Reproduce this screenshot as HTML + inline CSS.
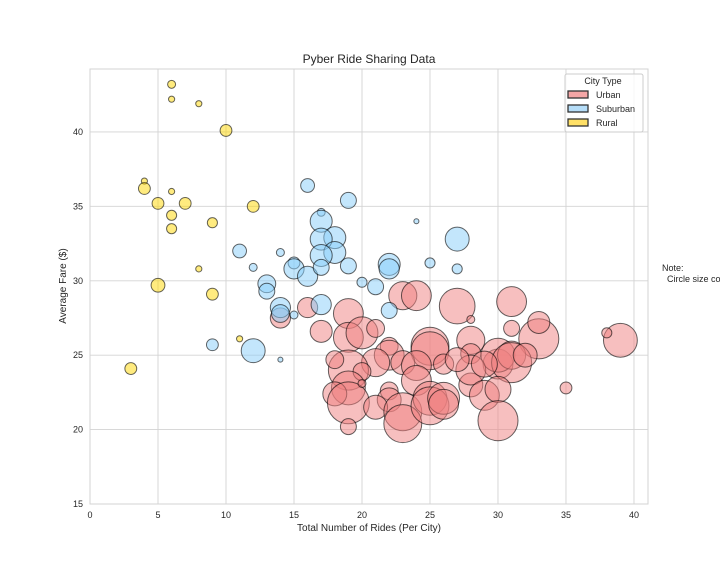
<!DOCTYPE html>
<html><head><meta charset="utf-8"><style>
body{margin:0;background:#fff;}
svg text{font-family:"Liberation Sans",sans-serif;fill:#262626;}
</style></head><body>
<svg id="chart" width="720" height="576" xmlns="http://www.w3.org/2000/svg">
<g id="grid"></g>
<g id="marks"></g>
<g id="axes"></g>
<text x="369" y="63" font-size="12" text-anchor="middle">Pyber Ride Sharing Data</text>
<text x="369" y="531" font-size="10" text-anchor="middle">Total Number of Rides (Per City)</text>
<text x="66" y="286" font-size="10" text-anchor="middle" transform="rotate(-90 66 286)">Average Fare ($)</text>
<g>
<rect x="565" y="74" width="78" height="58" rx="2" fill="#fff" fill-opacity="0.8" stroke="#ccc"/>
<text x="603" y="84" font-size="9" text-anchor="middle">City Type</text>
<g><rect x="568" y="91" width="20" height="7" fill="#F4A6A6" stroke="#333" stroke-width="1.3"/><text x="596" y="98" font-size="9">Urban</text></g>
<g><rect x="568" y="105" width="20" height="7" fill="#B5DDF8" stroke="#333" stroke-width="1.3"/><text x="596" y="112" font-size="9">Suburban</text></g>
<g><rect x="568" y="119" width="20" height="7" fill="#FFE066" stroke="#333" stroke-width="1.3"/><text x="596" y="126" font-size="9">Rural</text></g>
</g>
<text x="662" y="271" font-size="9">Note:</text>
<text x="662" y="282" font-size="9" xml:space="preserve">  Circle size correlates with driver count per city.</text>
</svg>
<script>
// data
const urbanRides=[16,14,19,17,19,20,21,23,24,27,28,31,31,33,33,39,38,25,25,28,28,22,22,21,23,24,26,30,30,31,31,19,18,20,19,18,19,20,22,22,21,23,23,24,25,25,26,26,28,28,29,30,30,35,19,27,29,32];
const urbanFare=[28.2,27.5,27.8,26.6,26.2,26.5,26.8,29,29,28.3,27.4,28.6,26.8,26.1,27.2,26,26.5,25.6,25.3,26,25.1,25.6,25,24.5,24.5,24.3,24.4,24.4,25,25,24.5,24,24.7,23.9,22.8,22.4,21.8,23.1,22.6,22,21.5,21.2,20.4,23.3,22.1,21.6,22.1,21.7,23,24,22.3,22.7,20.6,22.8,20.2,24.7,24.4,25];
const urbanDrivers=[32,32,70,38,70,80,25,62,70,100,5,70,20,126,38,90,8,113,113,62,32,25,70,62,45,70,32,70,90,62,126,126,25,25,90,45,138,5,25,45,45,113,113,70,90,113,80,70,45,70,70,53,126,11,20,45,53,45];
const suburbanRides=[16,19,17,17,18,17,18,17,11,14,12,15,15,16,17,19,22,22,20,21,24,27,25,27,13,13,14,14,15,17,22,9,12,14];
const suburbanFare=[36.4,35.4,34.6,34,32.9,32.8,31.9,31.7,32,31.9,30.9,31.2,30.8,30.3,30.9,31.0,31.1,30.8,29.9,29.6,34,32.8,31.2,30.8,29.8,29.3,28.2,27.8,27.7,28.4,28,25.7,25.3,24.7];
const suburbanDrivers=[15,20,5,38,38,38,38,38,15,5,5,11,32,32,20,20,38,32,8,20,2,45,8,8,25,20,32,25,5,32,20,11,45,2];
const ruralRides=[6,6,8,10,4,4,6,5,7,12,6,9,6,8,5,9,11,3];
const ruralFare=[43.2,42.2,41.9,40.1,36.7,36.2,36,35.2,35.2,35,34.4,33.9,33.5,30.8,29.7,29.1,26.1,24.1];
const ruralDrivers=[5,3,3,11,3,11,3,11,11,11,8,8,8,3,15,11,3,11];
const xTicks=[0,5,10,15,20,25,30,35,40];
const yTicks=[15,20,25,30,35,40];

const L=90,R=648,T=69,B=504,XMIN=0,XMAX=41.03,YMIN=15,YMAX=44.23;
const xs=v=>L+(v-XMIN)/(XMAX-XMIN)*(R-L);
const ys=v=>B-(v-YMIN)/(YMAX-YMIN)*(B-T);
const rs=d=>Math.sqrt(d*10/Math.PI);
const NS="http://www.w3.org/2000/svg";
function mk(tag,attrs,parent){const e=document.createElementNS(NS,tag);for(const k in attrs)e.setAttribute(k,attrs[k]);parent.appendChild(e);return e;}
const grid=document.getElementById('grid'),axes=document.getElementById('axes'),marks=document.getElementById('marks');
mk('rect',{x:L,y:T,width:R-L,height:B-T,fill:'#fff'},grid);
xTicks.forEach(t=>{
  const l=mk('line',{x1:xs(t),x2:xs(t),y1:T,y2:B,stroke:'#d3d3d3','stroke-width':0.9},grid);
  
  
  const tx=mk('text',{x:xs(t),y:B+14,'font-size':9,'text-anchor':'middle'},axes);
  tx.textContent=t;
  
  
});
yTicks.forEach(t=>{
  const l=mk('line',{x1:L,x2:R,y1:ys(t),y2:ys(t),stroke:'#d3d3d3','stroke-width':0.9},grid);
  
  
  const tx=mk('text',{x:L-7,y:ys(t)+3,'font-size':9,'text-anchor':'end'},axes);
  tx.textContent=t;
  
  
});
const fr=mk('rect',{x:L,y:T,width:R-L,height:B-T,fill:'none',stroke:'#d3d3d3','stroke-width':1},axes);


function series(rx,fy,dr,color,name){
  rx.forEach((v,i)=>{
    const c=mk('circle',{cx:xs(v),cy:ys(fy[i]),r:rs(dr[i]),fill:color,'fill-opacity':0.5,stroke:'#000','stroke-opacity':0.6,'stroke-width':1},marks);
    
    
  });
}
series(urbanRides,urbanFare,urbanDrivers,'#F08080','urban-bubble');
series(suburbanRides,suburbanFare,suburbanDrivers,'#87CEFA','suburban-bubble');
series(ruralRides,ruralFare,ruralDrivers,'#FFD700','rural-bubble');
</script>
</body></html>
